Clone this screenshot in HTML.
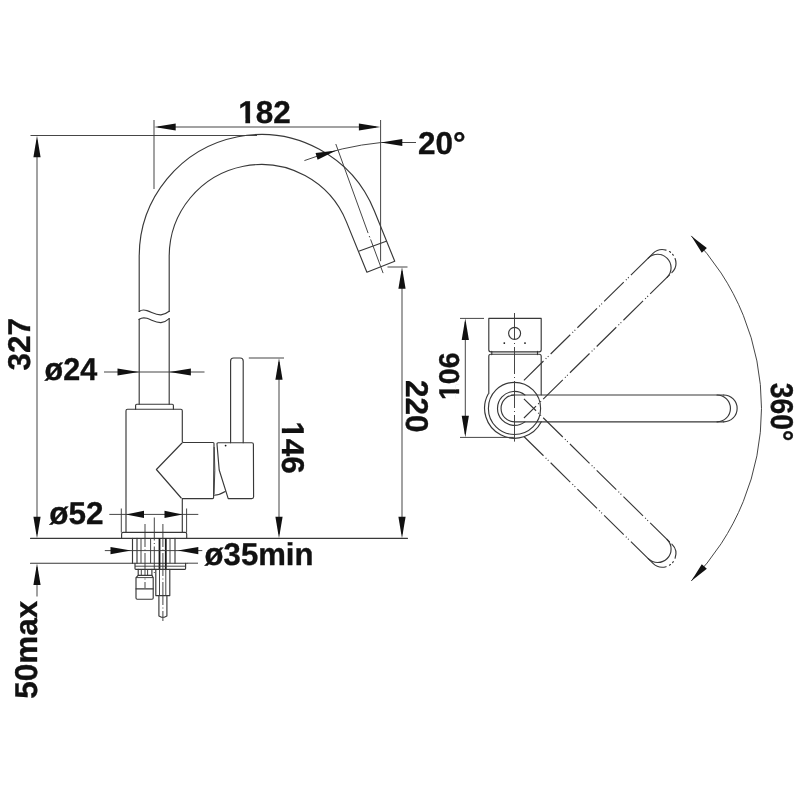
<!DOCTYPE html>
<html lang="en">
<head>
<meta charset="utf-8">
<title>Faucet dimension drawing</title>
<style>
html,body{margin:0;padding:0;background:#fff;}
body{width:800px;height:800px;overflow:hidden;}
svg{display:block;will-change:transform;}
.l{fill:none;stroke:#383838;stroke-width:1.15;stroke-linecap:round;stroke-linejoin:round;}
.l2{fill:none;stroke:#383838;stroke-width:1.15;stroke-linecap:round;}
.b{fill:none;stroke:#1a1a1a;stroke-width:1.8;}
.n{fill:none;stroke:#3c3c3c;stroke-width:0.95;}
.c{fill:none;stroke:#3c3c3c;stroke-width:0.95;stroke-dasharray:27 3 1 3;}
.c2{fill:none;stroke:#3c3c3c;stroke-width:0.95;stroke-dasharray:23 2.5 1 2.5;}
.p{fill:none;stroke:#383838;stroke-width:1.15;stroke-dasharray:27.5 3 1 2 1 3;}
.a{fill:#111;stroke:none;}
.t{font-family:"Liberation Sans",Arial,Helvetica,sans-serif;font-weight:bold;fill:#111;stroke:#111;stroke-width:0.35;text-rendering:geometricPrecision;}
</style>
</head>
<body>
<svg width="800" height="800" viewBox="0 0 800 800">
<rect x="0" y="0" width="800" height="800" fill="#ffffff"/>
<g id="side-view">
<path class="l" d="M139.2,311.5 L139.2,256.5 A122.0,122.0 0 0 1 374.28,210.7 L394.75,261.25 L366.9,272.25 L346.44,221.87 A92.0,92.0 0 0 0 169.2,256.5 L169.2,311.5"/>
<line class="l" x1="359.4" y1="251" x2="386.25" y2="241.25"/>
<path class="l" d="M139.2,311.5 C141,310 144,309.6 147,310.6 C152,312.2 156,315.3 161,314.9 C164,314.6 167,313 169.2,311.3"/>
<path class="l" d="M139.2,319.3 C141,318 144,317.4 147,318.3 C152,319.9 156,322.9 161,322.6 C164,322.3 167,320.6 169.2,318.6"/>
<line class="l" x1="139.2" y1="319.3" x2="139.2" y2="404.2"/>
<line class="l" x1="169.2" y1="318.6" x2="169.2" y2="404.2"/>
<path class="l" d="M135.6,409.2 L135.6,405.4 Q135.6,404.2 136.8,404.2 L172.2,404.2 Q173.4,404.2 173.4,405.4 L173.4,409.2"/>
<path class="l" d="M126,532.4 L126,410.7 Q126,409.2 127.5,409.2 L180.8,409.2 Q182.3,409.2 182.3,410.7 L182.3,441.5 Q182.3,442.5 183.5,442.5 L213,442.5 Q214,442.5 214,443.6 L213.6,497.6 Q213.6,498.6 212.5,498.6 L182.3,498.6 L182.3,532.4"/>
<path class="l" d="M182,443 L156.4,469.5 L181.2,498"/>
<path class="l" d="M218.2,442.7 L251.8,442.7 Q253.4,442.7 253.4,444.3 L253.6,496.8 Q253.6,498.6 251.8,498.6 L228.2,498.6 L219.2,470 L217,444 Q216.9,442.7 218.2,442.7 Z"/>
<path class="l" d="M213.8,495.2 Q220,495 225.2,491.6"/>
<path class="n" d="M214.2,447 Q215.6,470 214,494"/>
<circle cx="225.6" cy="445.6" r="0.9" class="a"/>
<path class="l" d="M230.6,442.7 L230.6,361 Q230.6,358 233.6,358 L240.2,358 Q243.2,358 243.2,361 L243.2,442.7"/>
<path class="l" d="M121.6,538.2 L121.6,533.9 Q121.6,532.4 123.1,532.4 L185.2,532.4 Q186.7,532.4 186.7,533.9 L186.7,538.2"/>
<line class="l" x1="30.5" y1="538.3" x2="407.5" y2="538.3"/>
<line class="l" x1="30.5" y1="563.2" x2="187" y2="563.2"/>
<line class="n" x1="187" y1="563.2" x2="198" y2="563.2"/>
<line class="l" x1="132.5" y1="538.3" x2="132.5" y2="563.2"/>
<line class="l" x1="137" y1="538.3" x2="137" y2="563.2"/>
<line class="l" x1="175" y1="538.3" x2="175" y2="563.2"/>
<line class="n" x1="170" y1="538.3" x2="170" y2="563.2"/>
<line class="n" x1="141" y1="538.3" x2="141" y2="563.2"/>
<line class="n" x1="150.6" y1="538.3" x2="150.6" y2="563.2"/>
<line class="b" x1="159.5" y1="538.3" x2="159.5" y2="569.4"/>
<line class="b" x1="165.8" y1="538.3" x2="165.8" y2="569.4"/>
<path class="l" d="M135,563.2 L135,568.6 Q135,569.4 135.8,569.4 L184.8,569.4 Q185.6,569.4 185.6,568.6 L185.6,563.2"/>
<line class="n" x1="135" y1="566.2" x2="185.6" y2="566.2"/>
<path class="l" d="M138.2,569.4 L138.2,575.4 M151.9,569.4 L151.9,575.4"/>
<line class="n" x1="141.3" y1="569.4" x2="141.3" y2="575.4"/>
<line class="n" x1="147.6" y1="569.4" x2="147.6" y2="575.4"/>
<path class="l" d="M138.2,575.4 L136,577.6 L136,598 Q136,599.2 137.2,599.2 L152,599.2 Q153.2,599.2 153.2,598 L153.2,577.6 L151.9,575.4 Z"/>
<line class="n" x1="136" y1="577.6" x2="153.2" y2="577.6"/>
<line class="l" x1="136" y1="588.8" x2="153.2" y2="588.8"/>
<path class="l" d="M155.8,569.4 L155.8,595.6 L169.8,595.6 L169.8,569.4"/>
<line class="n" x1="159.5" y1="569.4" x2="159.5" y2="595.6"/>
<line class="n" x1="165.8" y1="569.4" x2="165.8" y2="595.6"/>
<path class="l" d="M158.9,595.6 L158.9,616 L161.5,617.2 L164.3,617.2 L166.9,616 L166.9,595.6"/>
<line class="c2" x1="145" y1="524" x2="145" y2="588"/>
<line class="c2" x1="154.3" y1="517.5" x2="154.3" y2="575"/>
<line class="c2" x1="162.9" y1="524" x2="162.9" y2="621"/>
<path class="n" d="M335.8,144 L368.1,233.1 M369.2,236 L369.8,237.4 M370.6,239.4 L383.1,273.1"/>
<line class="n" x1="30.5" y1="135.5" x2="257" y2="135.5"/>
<line class="n" x1="37" y1="140" x2="37" y2="534"/>
<polygon class="a" points="37,135.8 40.6,157.3 33.4,157.3"/>
<polygon class="a" points="37,538.2 33.4,516.7 40.6,516.7"/>
<text class="t" transform="translate(30 344.3) rotate(-90)" font-size="31.5" text-anchor="middle">327</text>
<line class="n" x1="154" y1="120" x2="154" y2="189"/>
<line class="n" x1="380.6" y1="120" x2="380.6" y2="261.2"/>
<line class="n" x1="158" y1="127" x2="376" y2="127"/>
<polygon class="a" points="154.2,127 175.7,123.4 175.7,130.6"/>
<polygon class="a" points="380.4,127 358.9,130.6 358.9,123.4"/>
<text class="t" transform="translate(264.5 123)" font-size="31.5" text-anchor="middle">182</text>
<g transform="translate(264.5 123)" fill="#fff"><rect x="-25" y="-4.31" width="5.87" height="5.61"/><rect x="-14.41" y="-4.31" width="5.47" height="5.61"/></g>
<path class="n" d="M304.4,160.6 A294.4,294.4 0 0 1 381.25,142.5 L416,142.5"/>
<polygon class="a" points="380.8,142.5 402.3,138.9 402.3,146.1"/>
<polygon class="a" points="336.25,150.6 317.58,159.8 315.56,152.89"/>
<text class="t" transform="translate(418 154)" font-size="31.5" text-anchor="start">20°</text>
<line class="n" x1="104" y1="372" x2="204.5" y2="372"/>
<polygon class="a" points="139,372 117.5,375.6 117.5,368.4"/>
<polygon class="a" points="169.4,372 190.9,368.4 190.9,375.6"/>
<text class="t" transform="translate(44.5 380.4) scale(0.97 1)" font-size="31.5" text-anchor="start">ø24</text>
<line class="n" x1="248.8" y1="358" x2="284" y2="358"/>
<line class="n" x1="279" y1="362" x2="279" y2="534"/>
<polygon class="a" points="279,358.2 282.6,379.7 275.4,379.7"/>
<polygon class="a" points="279,538.2 275.4,516.7 282.6,516.7"/>
<text class="t" transform="translate(282.4 447.5) rotate(90)" font-size="31.5" text-anchor="middle">146</text>
<g transform="translate(282.4 447.5) rotate(90)" fill="#fff"><rect x="-25" y="-4.31" width="5.87" height="5.61"/><rect x="-14.41" y="-4.31" width="5.47" height="5.61"/></g>
<line class="n" x1="387.5" y1="267" x2="407.5" y2="267"/>
<line class="n" x1="402" y1="271" x2="402" y2="534"/>
<polygon class="a" points="402,267.2 405.6,288.7 398.4,288.7"/>
<polygon class="a" points="402,538.2 398.4,516.7 405.6,516.7"/>
<text class="t" transform="translate(405.8 406.2) rotate(90)" font-size="31.5" text-anchor="middle">220</text>
<line class="n" x1="109.3" y1="514.4" x2="198.3" y2="514.4"/>
<line class="n" x1="121.3" y1="508.5" x2="121.3" y2="532.4"/>
<line class="n" x1="186.6" y1="508.5" x2="186.6" y2="532.4"/>
<polygon class="a" points="126,514.4 144,510.8 144,518"/>
<polygon class="a" points="182.5,514.4 164.5,518 164.5,510.8"/>
<text class="t" transform="translate(49.3 524)" font-size="31.5" text-anchor="start">ø52</text>
<line class="n" x1="104.8" y1="550.6" x2="202.3" y2="550.6"/>
<polygon class="a" points="131,550.6 110.5,554.2 110.5,547"/>
<polygon class="a" points="177.8,550.6 198.3,547 198.3,554.2"/>
<text class="t" transform="translate(204.6 565.1) scale(0.987 1)" font-size="31.5" text-anchor="start">ø35min</text>
<line class="n" x1="37" y1="567" x2="37" y2="596.5"/>
<polygon class="a" points="37,563.4 40.6,584.9 33.4,584.9"/>
<text class="t" transform="translate(36.6 649.8) rotate(-90)" font-size="31.5" text-anchor="middle">50max</text>
</g>
<g id="plan-view">
<path class="l" d="M488.8,318.4 L541.2,318.4 L541.2,349.8 Q541.2,351.8 539.2,351.8 L490.8,351.8 Q488.8,351.8 488.8,349.8 Z"/>
<path class="l" d="M491.8,351.4 L491.8,354.6 M537.5,351.4 L537.5,354.6"/>
<circle class="l" cx="514.6" cy="333.3" r="6"/>
<circle class="a" cx="504.3" cy="343.1" r="0.9"/>
<circle class="a" cx="525" cy="343.1" r="0.9"/>
<path class="l" d="M488.8,393.6 L488.8,356.2 Q488.8,354.2 490.8,354.2 L539.2,354.2 Q541.2,354.2 541.2,356.2 L541.2,394.8"/>
<circle class="l" cx="514.5" cy="408.4" r="26.1"/>
<path class="l" d="M488.18,394 A30.0,30.0 0 1 0 541.32,421.85"/>
<path class="l" d="M524.9,394.95 A17.0,17.0 0 1 0 524.9,421.85"/>
<path class="l" d="M514.5,394.95 A13.45,13.45 0 0 0 514.5,421.85"/>
<line class="l" x1="511.5" y1="394.95" x2="723.7" y2="394.95"/>
<line class="l" x1="514.5" y1="421.85" x2="723.7" y2="421.85"/>
<path class="l" d="M717,394.95 A13.45,13.45 0 0 1 717,421.85"/>
<path class="l" d="M723.7,394.95 A13.45,13.45 0 0 1 723.7,421.85"/>
<g transform="rotate(-44.5 514.5 408.4)">
<line class="p" x1="540.9" y1="394.95" x2="717.7" y2="394.95"/>
<line class="p" stroke-dashoffset="10.5" x1="514.5" y1="421.85" x2="721.9" y2="421.85"/>
<path class="l" d="M715.2,394.95 A13.45,13.45 0 0 1 715.2,421.85"/>
<path class="l2" stroke-dasharray="18.2 3.7 1.2 3 1.2 3.7 100" d="M717.7,394.95 L721.9,394.95 A13.45,13.45 0 0 1 721.9,421.85"/>
</g>
<g transform="translate(0 816.8) scale(1 -1) rotate(-44.5 514.5 408.4)">
<line class="p" x1="540.9" y1="394.95" x2="717.7" y2="394.95"/>
<line class="p" stroke-dashoffset="10.5" x1="514.5" y1="421.85" x2="721.9" y2="421.85"/>
<path class="l" d="M715.2,394.95 A13.45,13.45 0 0 1 715.2,421.85"/>
<path class="l2" stroke-dasharray="18.2 3.7 1.2 3 1.2 3.7 100" d="M717.7,394.95 L721.9,394.95 A13.45,13.45 0 0 1 721.9,421.85"/>
</g>
<line class="c" x1="514.5" y1="313" x2="514.5" y2="441.6"/>
<line class="n" x1="460" y1="318.4" x2="484" y2="318.4"/>
<line class="n" x1="460" y1="437.4" x2="513.8" y2="437.4"/>
<line class="n" x1="465.3" y1="322" x2="465.3" y2="434"/>
<polygon class="a" points="465.3,318.6 468.9,340.1 461.7,340.1"/>
<polygon class="a" points="465.3,437.2 461.7,415.7 468.9,415.7"/>
<text class="t" transform="translate(459.4 376.2) rotate(-90)" font-size="28.6" text-anchor="middle">106</text>
<g transform="translate(459.4 376.2) rotate(-90)" fill="#fff"><rect x="-22.76" y="-4.02" width="5.37" height="5.32"/><rect x="-13.06" y="-4.02" width="5.01" height="5.32"/></g>
<path class="n" d="M691.28,235.89 A247.0,247.0 0 0 1 691.28,580.91"/>
<polygon class="a" points="691.28,235.89 706.85,248.11 701.8,252.66"/>
<polygon class="a" points="691.28,580.91 701.8,564.14 706.85,568.69"/>
<text class="t" transform="translate(771.2 412) rotate(90) scale(0.895 1)" font-size="31.5" text-anchor="middle">360°</text>
</g>
</svg>
</body>
</html>
